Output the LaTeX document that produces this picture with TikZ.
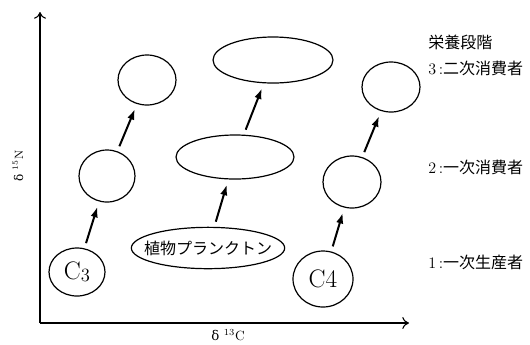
\documentclass[tikz,border=0pt]{standalone}
\usepackage{fontspec}
\newfontfamily\jp{Noto Sans CJK JP}
\newfontfamily\grk{DejaVu Serif}
\usetikzlibrary{shapes.geometric,arrows.meta}
\tikzset{
  blob/.style={draw,ellipse,line width=0.9pt,inner sep=0pt},
  uparr/.style={line width=1.5pt,-{Latex[length=8pt,width=5.5pt]},shorten <=4pt,shorten >=4pt},
  axisline/.style={line width=0.8pt,-{To[length=5pt,width=9pt]}},
  lvl/.style={anchor=west,inner sep=0pt,font=\fontsize{12}{12}\selectfont}
}
\begin{document}
\begin{tikzpicture}[x=0.75pt,y=-0.75pt]
\useasboundingbox (0,0) rectangle (530,344);
% axes
\coordinate (o) at (40,323);
\coordinate (ytop) at (40,12);
\coordinate (xend) at (409,323);
\draw[axisline] (o) -- (ytop);
\draw[axisline] (o) -- (xend);
\node[rotate=90,font=\fontsize{9}{9}\selectfont] (ylab) at (18,166) {{\grk δ} $^{15}$N};
\node[anchor=north,font=\fontsize{10}{10}\selectfont,inner sep=0pt] (xlab) at (228,329) {{\grk δ} $^{13}$C};
% left column (C3)
\node[blob,minimum width=42pt,minimum height=36pt] (c3) at (77,272) {};
\node[font=\fontsize{19}{19}\selectfont] (c3t) at (77,272) {C\raisebox{-0.15ex}{\fontsize{14}{14}\selectfont 3}};
\node[blob,minimum width=42pt,minimum height=39pt] (l2) at (107,176) {};
\node[blob,minimum width=43.5pt,minimum height=37.5pt] (l3) at (147,80) {};
% middle column (plankton)
\node[blob,minimum width=115pt,minimum height=31pt] (p1) at (208,248) {};
\node[font=\jp\fontsize{12}{12}\selectfont] (p1t) at (208,248) {植物プランクトン};
\node[blob,minimum width=88.5pt,minimum height=33pt] (p2) at (235,157) {};
\node[blob,minimum width=90pt,minimum height=34.5pt] (p3) at (273,60) {};
% right column (C4)
\node[blob,minimum width=45pt,minimum height=42pt] (c4) at (323,279) {};
\node[font=\fontsize{19}{19}\selectfont] (c4t) at (323,279) {C4};
\node[blob,minimum width=43.5pt,minimum height=39pt] (r2) at (352,182) {};
\node[blob,minimum width=43.5pt,minimum height=37.5pt] (r3) at (391,87) {};
% arrows
\draw[uparr] (c3) -- (l2);
\draw[uparr] (l2) -- (l3);
\draw[uparr] (p1) -- (p2);
\draw[uparr] (p2) -- (p3);
\draw[uparr] (c4) -- (r2);
\draw[uparr] (r2) -- (r3);
% legend
\node[lvl] (lg0) at (428,42) {\jp 栄養段階};
\node[lvl] (lg3) at (428,68) {3\,:\jp 二次消費者};
\node[lvl] (lg2) at (428,167) {2\,:\jp 一次消費者};
\node[lvl] (lg1) at (428,262) {1\,:\jp 一次生産者};
\end{tikzpicture}
\end{document}
